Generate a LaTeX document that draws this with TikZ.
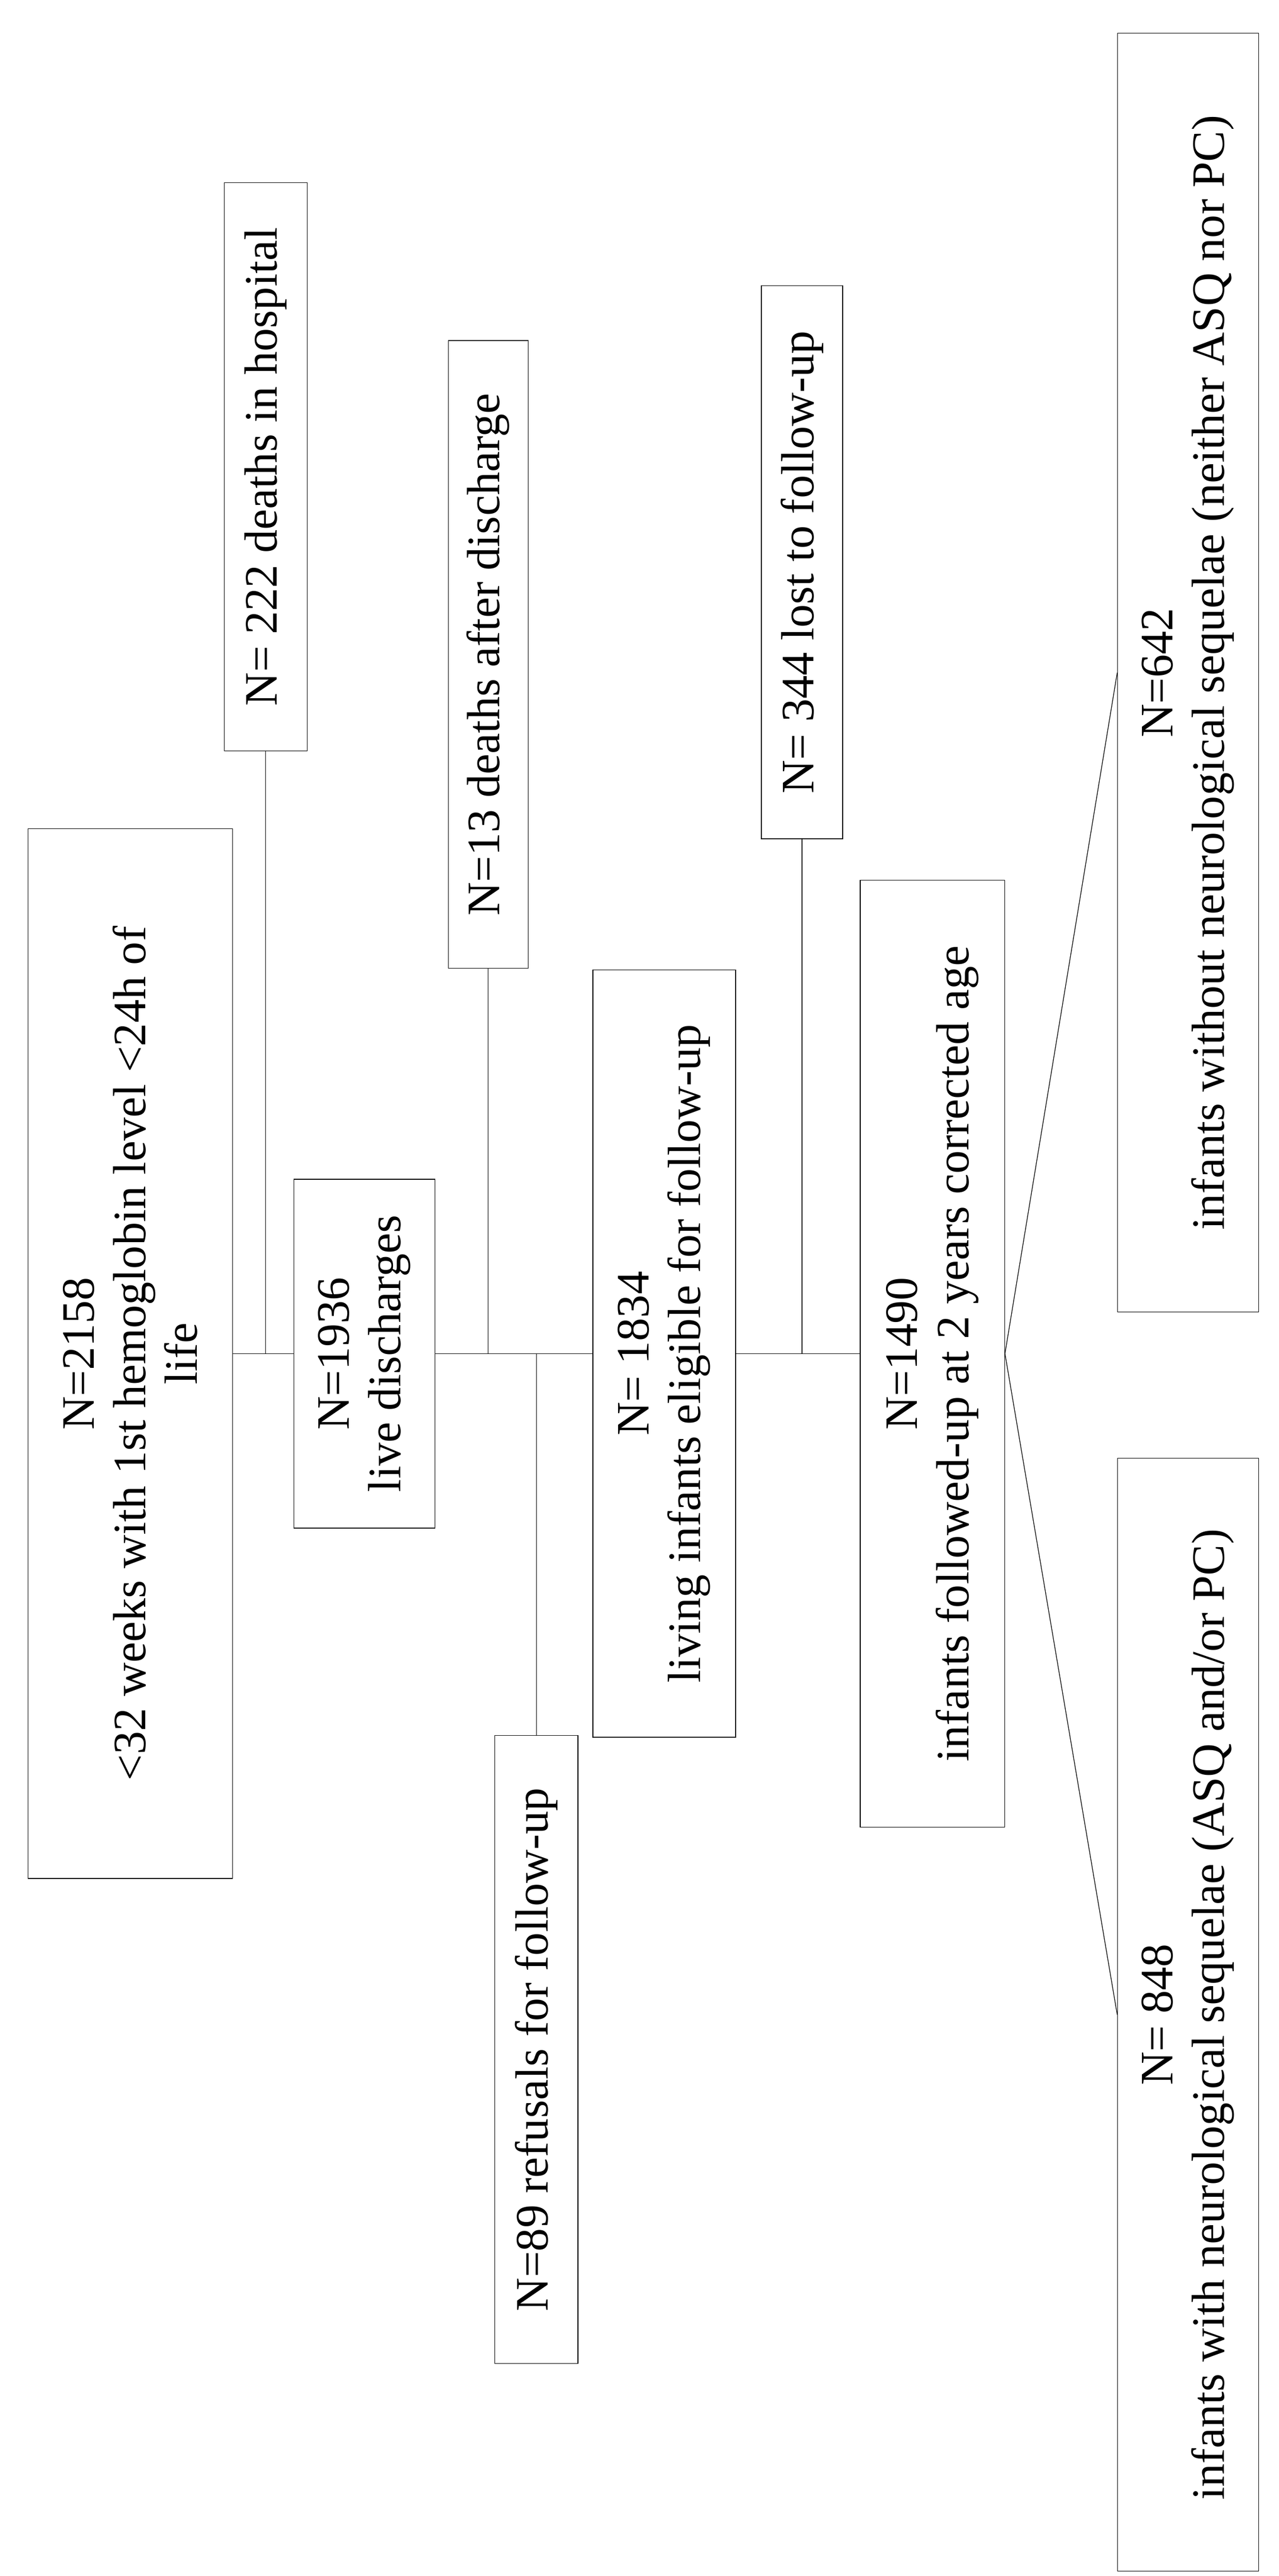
\documentclass[tikz,border=0pt]{standalone}
\usepackage{fontspec}
\setmainfont{Liberation Serif}
\tikzset{
	flowbox/.style={
			draw, rotate=90, align=center, inner sep=2pt,
			font=\fontsize{28}{31}\selectfont
		}
}

\begin{document}
\begin{tikzpicture}[x=1pt,y=-1pt]
		\useasboundingbox (0,0) rectangle (770,1551);

		\node[flowbox, minimum width=632, minimum height=123] (b1) at (78.5,815)
			{N=2158\\ <32 weeks with 1st hemoglobin level <24h of\\ life};
		\node[flowbox, minimum width=342, minimum height=50] (b2) at (160,281) {N= 222 deaths in hospital};
		\node[flowbox, minimum width=210, minimum height=85] (b3) at (219.5,815) {N=1936\\ live discharges};
		\node[flowbox, minimum width=378, minimum height=48] (b4) at (294,394) {N=13 deaths after discharge};
		\node[flowbox, minimum width=378, minimum height=50] (b5) at (323,1234) {N=89 refusals for follow-up};
		\node[flowbox, minimum width=462, minimum height=86] (b6) at (400,815) {N= 1834\\ living infants eligible for follow-up};
		\node[flowbox, minimum width=333, minimum height=49] (b7) at (483,338.5) {N= 344 lost to follow-up};
		\node[flowbox, minimum width=570, minimum height=87] (b8) at (561.5,815) {N=1490\\ infants followed-up at 2 years corrected age};
		\node[flowbox, minimum width=770, minimum height=85] (b9) at (715.5,405) {N=642\\ infants without neurological sequelae (neither ASQ nor PC)};
		\node[flowbox, minimum width=670, minimum height=85] (b10) at (715.5,1213) {N= 848\\ infants with neurological sequelae (ASQ and/or PC)};

		\coordinate (j1) at (160,815);
		\coordinate (j2) at (294,815);
		\coordinate (j3) at (323,815);
		\coordinate (j4) at (483,815);

		\draw (b1.south) -- (b3.north);
		\draw (b3.south) -- (b6.north);
		\draw (b6.south) -- (b8.north);
		\draw (j1) -- (b2.west);
		\draw (j2) -- (b4.west);
		\draw (j3) -- (b5.east);
		\draw (j4) -- (b7.west);
		\draw (b8.south) -- (b9.north);
		\draw (b8.south) -- (b10.north);
	\end{tikzpicture}
\end{document}
